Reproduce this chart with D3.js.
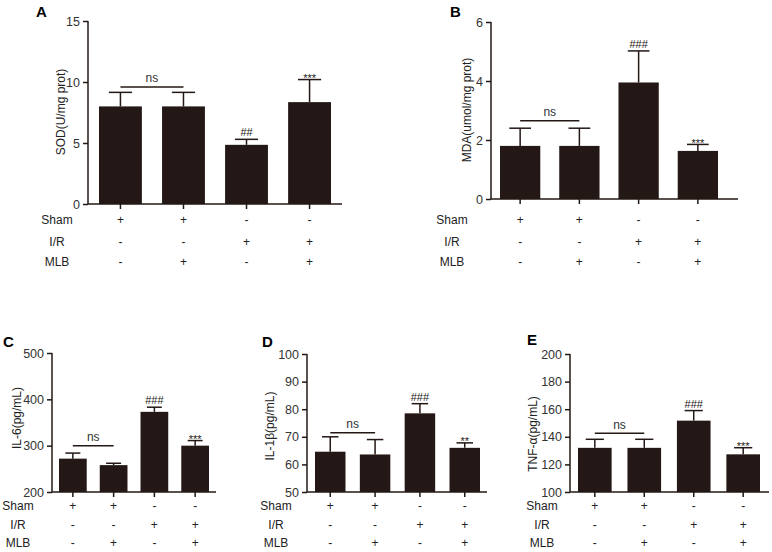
<!DOCTYPE html>
<html>
<head>
<meta charset="utf-8">
<script src="https://cdn.jsdelivr.net/npm/d3@7"></script>
<style>
  html, body { margin: 0; padding: 0; background: #fff; }
  svg { display: block; font-family: Arial, "Liberation Sans", sans-serif; }
</style>
</head>
<body>
<svg id="chart" width="772" height="552"></svg>
<script>
// ---------- data ----------
const groups = ["G1", "G2", "G3", "G4"];
const rowLabels = ["Sham", "I/R", "MLB"];
const shamRow = ["+", "+", "-", "-"];
const irRow = ["-", "-", "+", "+"];
const mlbRow = ["-", "+", "-", "+"];

const sodMean = [8.0, 8.0, 4.85, 8.35];
const sodErr  = [9.15, 9.15, 5.3, 10.2];
const mdaMean = [1.8, 1.8, 3.95, 1.63];
const mdaErr  = [2.4, 2.4, 5.02, 1.85];
const il6Mean = [272, 258, 373, 300];
const il6Err  = [284, 262, 383, 311];
const il1bMean = [64.6, 63.6, 78.5, 66.0];
const il1bErr  = [70.0, 69.0, 82.0, 67.8];
const tnfMean = [132, 132, 151.7, 127.3];
const tnfErr  = [138.2, 138.2, 159, 132.1];

const sodSig  = ["", "", "##", "***"];
const mdaSig  = ["", "", "###", "***"];
const il6Sig  = ["", "", "###", "***"];
const il1bSig = ["", "", "###", "**"];
const tnfSig  = ["", "", "###", "***"];

const nsLevels = [9.6, 2.65, 300, 71.5, 142.5];

const sodTicks = [0, 5, 10, 15];
const mdaTicks = [0, 2, 4, 6];
const il6Ticks = [200, 300, 400, 500];
const il1bTicks = [50, 60, 70, 80, 90, 100];
const tnfTicks = [100, 120, 140, 160, 180, 200];

// ---------- layout ----------
const ink = "#231815";
const panels = [
  { letter: "A", lx: 36, ly: 17, yLabel: "SOD(U/mg  prot)", mean: sodMean, err: sodErr, sig: sodSig, ns: nsLevels[0],
    ticks: sodTicks, ax: 88, yTop: 21, yBot: 204, xEnd: 342, b0: 99, b1: 331,
    ylx: 61, yly: 112, rowX: 57, rowY: [220, 242, 262] },
  { letter: "B", lx: 450, ly: 17, yLabel: "MDA(umol/mg prot)", mean: mdaMean, err: mdaErr, sig: mdaSig, ns: nsLevels[1],
    ticks: mdaTicks, ax: 491, yTop: 22, yBot: 199, xEnd: 738, b0: 500, b1: 718,
    ylx: 467, yly: 110, rowX: 452, rowY: [220, 242, 262] },
  { letter: "C", lx: 3, ly: 347, yLabel: "IL-6(pg/mL)", mean: il6Mean, err: il6Err, sig: il6Sig, ns: nsLevels[2],
    ticks: il6Ticks, ax: 52, yTop: 353, yBot: 492, xEnd: 216, b0: 59, b1: 209,
    ylx: 17, yly: 418, rowX: 18, rowY: [506, 525, 543] },
  { letter: "D", lx: 262, ly: 347, yLabel: "IL-1β(pg/mL)", mean: il1bMean, err: il1bErr, sig: il1bSig, ns: nsLevels[3],
    ticks: il1bTicks, ax: 307, yTop: 354, yBot: 492, xEnd: 487, b0: 315, b1: 480,
    ylx: 270, yly: 426, rowX: 276, rowY: [506, 525, 543] },
  { letter: "E", lx: 527, ly: 345, yLabel: "TNF-α(pg/mL)", mean: tnfMean, err: tnfErr, sig: tnfSig, ns: nsLevels[4],
    ticks: tnfTicks, ax: 570, yTop: 354, yBot: 492, xEnd: 769, b0: 578, b1: 760,
    ylx: 533, yly: 434, rowX: 542, rowY: [506, 525, 543] }
];

const svg = d3.select("#chart");
const rows = [shamRow, irRow, mlbRow];

panels.forEach(p => {
  const g = svg.append("g");
  const y = d3.scaleLinear()
    .domain([p.ticks[0], p.ticks[p.ticks.length - 1]])
    .range([p.yBot, p.yTop]);
  const x = d3.scaleBand().domain(groups).range([p.b0, p.b1]).paddingInner(0.32).paddingOuter(0);
  const bw = x.bandwidth();
  const cx = d => x(d) + bw / 2;

  // bars
  g.selectAll("rect.bar").data(groups).join("rect")
    .attr("x", d => x(d))
    .attr("y", (d, i) => y(p.mean[i]))
    .attr("width", bw)
    .attr("height", (d, i) => y(p.ticks[0]) - y(p.mean[i]))
    .attr("fill", ink);

  // error bars (upper)
  g.selectAll("line.ev").data(groups).join("line")
    .attr("x1", d => cx(d)).attr("x2", d => cx(d))
    .attr("y1", (d, i) => y(p.mean[i])).attr("y2", (d, i) => y(p.err[i]))
    .attr("stroke", ink).attr("stroke-width", 1.5);
  g.selectAll("line.cap").data(groups).join("line")
    .attr("x1", d => cx(d) - bw * 0.27).attr("x2", d => cx(d) + bw * 0.27)
    .attr("y1", (d, i) => y(p.err[i])).attr("y2", (d, i) => y(p.err[i]))
    .attr("stroke", ink).attr("stroke-width", 1.5);

  // significance labels
  g.selectAll("text.sig").data(groups).join("text")
    .attr("x", d => cx(d))
    .attr("y", (d, i) => y(p.err[i]) + (p.sig[i].startsWith("#") ? -3 : 2.5))
    .attr("text-anchor", "middle")
    .attr("font-size", 11)
    .attr("fill", ink)
    .text((d, i) => p.sig[i]);

  // ns bracket
  g.append("line")
    .attr("x1", cx(groups[0])).attr("x2", cx(groups[1]))
    .attr("y1", y(p.ns)).attr("y2", y(p.ns))
    .attr("stroke", ink).attr("stroke-width", 1.5);
  g.append("text")
    .attr("x", (cx(groups[0]) + cx(groups[1])) / 2)
    .attr("y", y(p.ns) - 4.5)
    .attr("text-anchor", "middle")
    .attr("font-size", 12)
    .attr("fill", "#333")
    .text("ns");

  // y axis
  const yAxis = d3.axisLeft(y).tickValues(p.ticks).tickSize(5).tickPadding(3).tickFormat(d3.format("d"));
  const ya = g.append("g").attr("transform", `translate(${p.ax},0)`).call(yAxis);
  ya.select(".domain").attr("stroke", ink).attr("stroke-width", 1.5).attr("d", `M0,${p.yTop}V${p.yBot}`);
  ya.selectAll(".tick line").attr("stroke", ink).attr("stroke-width", 1.5);
  ya.selectAll(".tick text").attr("font-size", 12.5).attr("fill", "#333")
    .attr("font-family", "Arial, 'Liberation Sans', sans-serif");

  // x axis
  const xAxis = d3.axisBottom(x).tickSize(5).tickFormat("");
  const xa = g.append("g").attr("transform", `translate(0,${p.yBot})`).call(xAxis);
  xa.select(".domain").attr("stroke", ink).attr("stroke-width", 1.5).attr("d", `M${p.ax},0H${p.xEnd}`);
  xa.selectAll(".tick line").attr("stroke", ink).attr("stroke-width", 1.5);

  // y label
  g.append("text")
    .attr("transform", `translate(${p.ylx},${p.yly}) rotate(-90)`)
    .attr("text-anchor", "middle")
    .attr("dy", "0.35em")
    .attr("font-size", 12)
    .attr("fill", "#222")
    .text(p.yLabel);

  // panel letter
  g.append("text")
    .attr("x", p.lx).attr("y", p.ly)
    .attr("font-size", 15).attr("font-weight", "bold").attr("fill", "#000")
    .text(p.letter);

  // treatment rows
  rowLabels.forEach((lab, r) => {
    g.append("text")
      .attr("x", p.rowX).attr("y", p.rowY[r]).attr("dy", "0.35em")
      .attr("text-anchor", "middle").attr("font-size", 12).attr("fill", "#222")
      .text(lab);
    g.selectAll(null).data(groups).join("text")
      .attr("x", d => cx(d)).attr("y", p.rowY[r]).attr("dy", "0.35em")
      .attr("text-anchor", "middle").attr("font-size", 12).attr("fill", "#222")
      .text((d, i) => rows[r][i]);
  });
});
</script>
</body>
</html>
